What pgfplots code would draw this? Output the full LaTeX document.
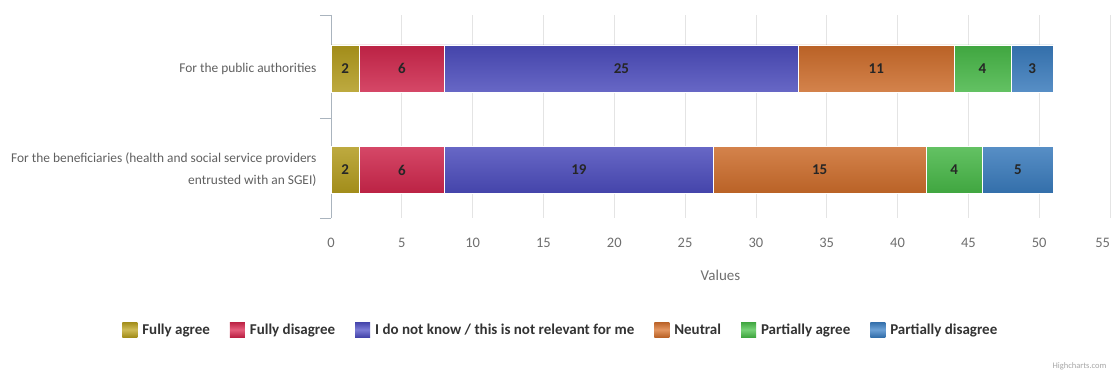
\documentclass[border=0pt]{standalone}
\usepackage{fontspec}
\setmainfont{Carlito}
\usepackage{pgfplots}
\usepackage{pgfplotstable}
\pgfplotsset{compat=1.18}
\definecolor{cFA}{RGB}{190,165,30}
\definecolor{cFD}{RGB}{220,40,80}
\definecolor{cDK}{RGB}{80,80,200}
\definecolor{cNE}{RGB}{218,115,45}
\definecolor{cPA}{RGB}{75,195,75}
\definecolor{cPD}{RGB}{60,130,200}
\definecolor{tickgray}{RGB}{110,110,110}
\definecolor{labgray}{RGB}{95,95,95}
\definecolor{gridgray}{RGB}{228,228,228}
\definecolor{axgray}{RGB}{170,180,190}
\pgfplotsset{mybar/.style={draw=white, line width=0.7pt, top color=#1!85!black, bottom color=#1!85!black, middle color=#1!75!white}}
\pgfplotstableread{
y fa fd dk ne pa pd
0 2 6 25 11 4 3
1 2 6 19 15 4 5
}\data
\begin{document}
\begin{tikzpicture}
\useasboundingbox (0,0) rectangle (1113pt,374pt);
\begin{axis}[
  at={(331pt,156pt)}, anchor=south west,
  scale only axis, width=779pt, height=203pt,
  xbar stacked, bar width=47pt,
  xmin=0, xmax=55, ymin=-0.527, ymax=1.473,
  y dir=reverse,
  axis lines*=left,
  x axis line style={draw=none},
  y axis line style={draw=axgray, line width=0.8pt},
  xtick={0,5,...,55},
  xticklabels={0,5,10,15,20,25,30,35,40,45,50,\hbox to 0pt{\hss 55}},
  x tick style={draw=none},
  xmajorgrids, major grid style={draw=gridgray, line width=0.8pt},
  x tick label style={font=\fontsize{14.5}{16}\selectfont, text=tickgray, yshift=-6pt},
  /pgf/number format/assume math mode=true,
  ytick={-0.527,0.49,1.473}, yticklabels={},
  y tick style={draw=axgray, line width=0.8pt},
  major tick length=11pt, tick align=outside,
  extra y ticks={0,1},
  extra y tick labels={For the public authorities, {For the beneficiaries (health and social service providers\\entrusted with an SGEI)}},
  extra y tick style={major tick length=0pt, ymajorgrids=false,
    yticklabel style={align=right, font=\fontsize{13.4}{22}\selectfont, text=labgray, xshift=-11pt}},
  xlabel={Values},
  xlabel style={at={(axis description cs:0.5,-0.281)}, anchor=center, font=\fontsize{15}{17}\selectfont, text=tickgray},
  nodes near coords,
  point meta=rawx,
  every node near coord/.append style={anchor=center, font=\bfseries\fontsize{15}{17}\selectfont, text=black!85},
  legend columns=6,
  legend style={draw=none, at={(axis description cs:0.295,-0.552)}, anchor=center,
    font=\bfseries\fontsize{15}{17}\selectfont, text=black!80,
    /tikz/every even column/.append style={column sep=18pt},
    /tikz/every odd column/.append style={column sep=3pt}},
  legend image code/.code={\path[#1, draw=none] (0pt,-7pt) rectangle (15pt,8pt);},
]
\addplot[mybar=cFA] table[x=fa, y=y] {\data};
\addplot[mybar=cFD] table[x=fd, y=y] {\data};
\addplot[mybar=cDK] table[x=dk, y=y] {\data};
\addplot[mybar=cNE] table[x=ne, y=y] {\data};
\addplot[mybar=cPA] table[x=pa, y=y] {\data};
\addplot[mybar=cPD] table[x=pd, y=y] {\data};
\legend{Fully agree, Fully disagree, I do not know / this is not relevant for me, Neutral, Partially agree, Partially disagree}
\end{axis}
\node[anchor=east, font=\fontsize{8.5}{10}\selectfont, text=gray!70] at (1110pt,8pt) {Highcharts.com};
\end{tikzpicture}
\end{document}
